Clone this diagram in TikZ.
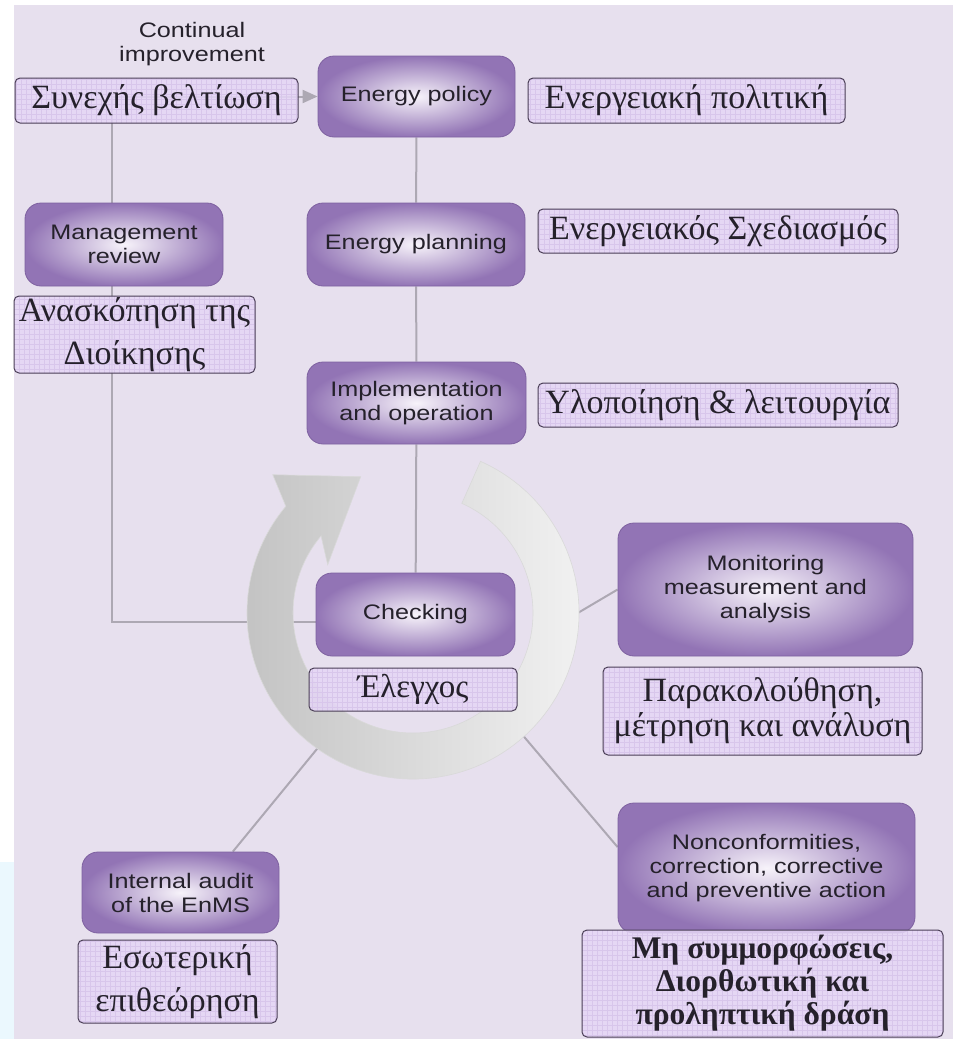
\documentclass[tikz,border=0pt]{standalone}
\usepackage{fontspec}
\setmainfont{Liberation Serif}
\newfontfamily\boxfont[FakeStretch=1.2]{Liberation Sans}
\usetikzlibrary{calc,arrows.meta}

\definecolor{bgpurple}{HTML}{E7E0EE}
\definecolor{boxedge}{HTML}{7E61A0}
\definecolor{boxouter}{HTML}{9274B5}
\definecolor{boxinner}{HTML}{F7F3FA}
\definecolor{labelfill}{HTML}{E5D6F6}
\definecolor{labelgrid}{HTML}{D8C6EB}
\definecolor{labeledge}{HTML}{4A3E56}
\definecolor{linkgray}{HTML}{ADA8B3}
\definecolor{textdark}{HTML}{25212B}
\definecolor{ringdark}{HTML}{C3C3C3}
\definecolor{ringlight}{HTML}{F4F4F4}

\pgfdeclarelayer{bg}
\pgfdeclarelayer{ring}
\pgfsetlayers{bg,ring,main}

\begin{document}
\begin{tikzpicture}[x=1pt, y=-1pt,
  stage/.style={rounded corners=16pt, draw=boxedge, line width=0.8pt,
    inner color=boxinner, outer color=boxouter, text=textdark,
    align=center, inner sep=0pt, font=\boxfont\fontsize{21}{24}\selectfont},
  gr/.style={rounded corners=5pt, draw=labeledge, line width=1pt,
    fill=labelfill, fill opacity=0.85, text opacity=1, text=textdark,
    align=center, inner sep=0pt, font=\fontsize{34}{43}\selectfont,
    path picture={\draw[labelgrid, line width=0.25pt, step=5pt]
      (path picture bounding box.south west) grid (path picture bounding box.north east);}},
  link/.style={draw=linkgray, line width=2pt}]
  \useasboundingbox (0,0) rectangle (953,1039);

  % stages of the cycle
  \node[stage, minimum width=197pt, minimum height=81pt] (policy)   at (416.5, 96.5) {Energy policy};
  \node[stage, minimum width=218pt, minimum height=83pt] (planning) at (416.0,244.5) {Energy planning};
  \node[stage, minimum width=219pt, minimum height=82pt] (impl)     at (416.5,403.0) {Implementation\\and operation};
  \node[stage, minimum width=199pt, minimum height=83pt] (checking) at (415.5,614.5) {Checking};
  \node[stage, minimum width=198pt, minimum height=83pt] (manage)   at (124.0,244.5) {Management\\review};
  \node[stage, minimum width=295pt, minimum height=133pt] (monitor) at (765.5,589.5) {Monitoring\\measurement and\\analysis};
  \node[stage, minimum width=297pt, minimum height=130pt] (noncon)  at (766.5,868.0) {Nonconformities,\\correction, corrective\\and preventive action};
  \node[stage, minimum width=197pt, minimum height=81pt] (audit)    at (180.5,892.5) {Internal audit\\of the EnMS};

  \node[font=\boxfont\fontsize{21}{24}\selectfont, text=textdark, align=center] (contlabel) at (192,44) {Continual\\improvement};

  % greek labels
  \node[gr, minimum width=283pt, minimum height=45pt] (grcont)     at (156.5,100.5) {Συνεχής βελτίωση};
  \node[gr, minimum width=317pt, minimum height=45pt] (grpolicy)   at (686.5,100.5) {Ενεργειακή πολιτική};
  \node[gr, minimum width=360pt, minimum height=44pt] (grplanning) at (718.0,231.0) {Ενεργειακός Σχεδιασμός};
  \node[gr, minimum width=360pt, minimum height=44pt] (grimpl)     at (718.0,405.0) {Υλοποίηση \& λειτουργία};
  \node[gr, minimum width=241pt, minimum height=77pt] (grmanage)   at (134.5,334.5) {Ανασκόπηση της\\Διοίκησης};
  \node[gr, minimum width=208pt, minimum height=43pt, font=\fontsize{33}{40}\selectfont] (grcheck) at (413.0,689.5) {Έλεγχος};
  \node[gr, minimum width=319pt, minimum height=88pt, font=\fontsize{34}{35}\selectfont] (grmonitor) at (762.5,711.0) {Παρακολούθηση,\\μέτρηση και ανάλυση};
  \node[gr, minimum width=361pt, minimum height=107pt, font=\bfseries\fontsize{31.5}{33}\selectfont] (grnoncon) at (762.5,983.5) {Μη συμμορφώσεις,\\Διορθωτική και\\προληπτική δράση};
  \node[gr, minimum width=199pt, minimum height=83pt] (graudit)    at (177.5,981.5) {Εσωτερική\\επιθεώρηση};

  \begin{pgfonlayer}{bg}
    \fill[white] (0,0) rectangle (953,1039);
    \fill[bgpurple] (14,5) rectangle (953,1039);
    \fill[cyan!8] (0,862) rectangle (14,1039);

    \coordinate (loop) at (112,96.5);
    \coordinate (hubM) at (560,623.5);
    \coordinate (hubN) at (509,719);
    \coordinate (hubA) at (335,727);

    \draw[link] (policy) -- (planning);
    \draw[link] (planning) -- (impl);
    \draw[link] (impl) -- (checking);
    \draw[link, -{Triangle[length=15pt, width=13pt]}] ($(checking.west)+(0,7)$) -| (loop) -- (policy.west);
    \draw[link] (hubM) -- (monitor.west);
    \draw[link] (hubN) -- (noncon.172);
    \draw[link] (hubA) -- (audit.38);
  \end{pgfonlayer}

  % the grey cycle arrow
  \begin{pgfonlayer}{ring}
    \begin{scope}[shift={(413,613)}, y=1pt]
      \draw[draw=black!15, line width=0.6pt, left color=ringdark, right color=ringlight]
        (66:166) arc[start angle=66, end angle=-220, radius=166]
        -- (135.4:197) -- (111:146) -- (150.5:98) -- (140:120)
        arc[start angle=-220, end angle=66, radius=120] -- cycle;
    \end{scope}
  \end{pgfonlayer}
\end{tikzpicture}
\end{document}
